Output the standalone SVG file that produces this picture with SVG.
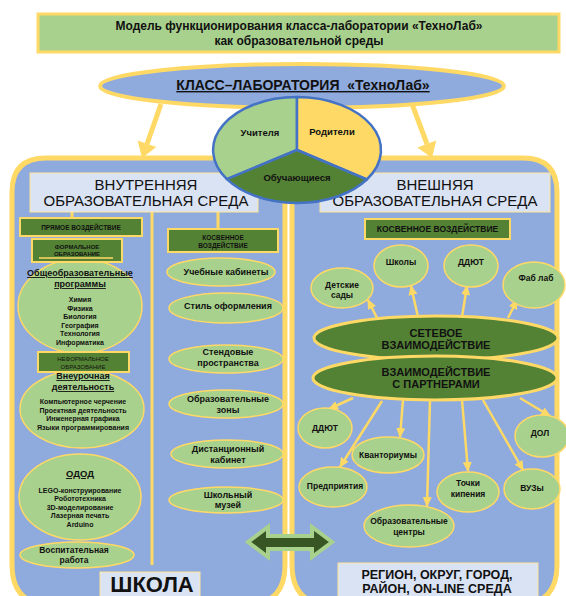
<svg xmlns="http://www.w3.org/2000/svg" width="566" height="596" viewBox="0 0 566 596">
<defs>
<style>
.t{font-family:"Liberation Sans",Arial,sans-serif;fill:#111;text-anchor:middle;font-weight:bold}
.n{font-weight:normal}
.u{text-decoration:underline}
.lg{fill:#a9d18e;stroke:#ffd966;stroke-width:1.5}
.dg{fill:#548235;stroke:#ffd966;stroke-width:2}
.hd{fill:#dae3f3;stroke:#ffe699;stroke-width:1}
.pn{fill:#8faadc;stroke:#ffd966;stroke-width:5}
.ar{stroke:#ffd966;stroke-width:2.5;fill:none;marker-end:url(#ah)}
.yl{stroke:#ffd966;stroke-width:3;fill:none}
</style>
<marker id="ah" markerUnits="userSpaceOnUse" markerWidth="10" markerHeight="10" viewBox="0 0 10 10" refX="9" refY="5" orient="auto">
<path d="M0,0.5 L10,5 L0,9.5 Z" fill="#ffd966"/>
</marker>
</defs>
<rect width="566" height="596" fill="#ffffff"/>

<g id="title">
<rect x="38" y="14" width="521" height="38" fill="#a9d18e" stroke="#ffd966" stroke-width="3"/>
<text class="t" x="299" y="30" font-size="12">Модель функционирования класса-лаборатории «ТехноЛаб»</text>
<text class="t" x="299" y="45" font-size="12">как образовательной среды</text>
</g>

<g id="panel-left">
<path class="pn" d="M12,192 Q12,158 46,158 L251,158 Q285,158 285,192 L285,565 Q285,605 245,605 L52,605 Q12,605 12,565 Z"/>
<line class="yl" x1="152" y1="212" x2="152" y2="565"/>
<line class="yl" x1="72" y1="212" x2="72" y2="218" stroke-width="2"/>
<line class="yl" x1="218" y1="212" x2="218" y2="229" stroke-width="2"/>
</g>
<g id="panel-right">
<path class="pn" d="M292,192 Q292,158 326,158 L523,158 Q557,158 557,192 L557,565 Q557,605 517,605 L332,605 Q292,605 292,565 Z"/>
</g>

<g id="header-left">
<rect class="hd" x="30" y="173" width="228" height="39"/>
<text class="t n" x="146" y="190" font-size="15">ВНУТРЕННЯЯ</text>
<text class="t n" x="146" y="206" font-size="15">ОБРАЗОВАТЕЛЬНАЯ СРЕДА</text>
</g>
<g id="header-right">
<rect class="hd" x="320" y="173" width="230" height="39"/>
<text class="t n" x="435" y="190" font-size="15">ВНЕШНЯЯ</text>
<text class="t n" x="435" y="206" font-size="15">ОБРАЗОВАТЕЛЬНАЯ СРЕДА</text>
</g>

<g id="top-arrows">
<line x1="161" y1="104" x2="147" y2="144" stroke="#ffd966" stroke-width="5"/>
<polygon points="156.4,147.1 137.6,140.5 142,158" fill="#ffd966"/>
<line x1="412" y1="104" x2="427" y2="144" stroke="#ffd966" stroke-width="5"/>
<polygon points="436.2,140.4 417.4,147.4 432,158" fill="#ffd966"/>
</g>

<g id="class-lab">
<ellipse cx="302" cy="86" rx="202" ry="22" fill="#8faadc" stroke="#ffd966" stroke-width="4"/>
<text class="t u" x="303" y="90" font-size="14" xml:space="preserve">КЛАСС–ЛАБОРАТОРИЯ  «ТехноЛаб»</text>
</g>

<g id="pie">
<path d="M297,150 L297,97 A84,53 0 0,0 226.9,179.1 Z" fill="#a9d18e" stroke="#4472c4" stroke-width="2.5" stroke-linejoin="round"/>
<path d="M297,150 L297,97 A84,53 0 0,1 366.8,179.5 Z" fill="#ffd966" stroke="#4472c4" stroke-width="2.5" stroke-linejoin="round"/>
<path d="M297,150 L366.8,179.5 A84,53 0 0,1 226.9,179.1 Z" fill="#548235" stroke="#4472c4" stroke-width="2.5" stroke-linejoin="round"/>
<text class="t" x="260" y="136" font-size="9.5">Учителя</text>
<text class="t" x="332" y="135" font-size="9.5">Родители</text>
<text class="t" x="297" y="181" font-size="9.5">Обучающиеся</text>
</g>

<g id="direct">
<rect class="dg" x="20" y="218" width="122" height="18"/>
<text class="t" x="81" y="229.5" font-size="6.5">ПРЯМОЕ ВОЗДЕЙСТВИЕ</text>
</g>

<g id="general-programs">
<ellipse class="lg" cx="80" cy="306" rx="62" ry="47"/>
<text class="t u" x="80" y="276" font-size="9">Общеобразовательные</text>
<text class="t u" x="80" y="287" font-size="9">программы</text>
<text class="t" x="80" y="302" font-size="7">Химия</text>
<text class="t" x="80" y="310.5" font-size="7">Физика</text>
<text class="t" x="80" y="319" font-size="7">Биология</text>
<text class="t" x="80" y="327.5" font-size="7">География</text>
<text class="t" x="80" y="336" font-size="7">Технология</text>
<text class="t" x="80" y="344.5" font-size="7">Информатика</text>
</g>

<g id="formal">
<rect class="dg" x="32" y="239" width="90" height="23" stroke-width="2.5"/>
<text class="t" x="77" y="248.5" font-size="6">ФОРМАЛЬНОЕ</text>
<text class="t" x="77" y="256" font-size="6">ОБРАЗОВАНИЕ</text>
<line x1="39" y1="258" x2="113" y2="258" stroke="#ffd966" stroke-width="1.5"/>
</g>

<g id="extracurricular">
<ellipse class="lg" cx="82" cy="409" rx="62" ry="39"/>
<text class="t u" x="83" y="379" font-size="9">Внеурочная</text>
<text class="t u" x="83" y="390" font-size="9">деятельность</text>
<text class="t" x="83" y="404" font-size="7">Компьютерное черчение</text>
<text class="t" x="83" y="412.5" font-size="7">Проектная деятельность</text>
<text class="t" x="83" y="421" font-size="7">Инженерная графика</text>
<text class="t" x="83" y="429.5" font-size="7">Языки программирования</text>
</g>

<g id="informal">
<rect class="dg" x="38" y="352" width="91" height="20" stroke-width="2.5"/>
<text class="t n" x="83" y="360.5" font-size="6">НЕФОРМАЛЬНОЕ</text>
<text class="t n" x="83" y="368.5" font-size="6">ОБРАЗОВАНИЕ</text>
</g>

<g id="odod">
<ellipse class="lg" cx="80" cy="497" rx="61" ry="43"/>
<text class="t u" x="80" y="477" font-size="9.5">ОДОД</text>
<text class="t" x="80" y="492.5" font-size="7">LEGO-конструирование</text>
<text class="t" x="80" y="501" font-size="7">Робототехника</text>
<text class="t" x="80" y="509.5" font-size="7">3D-моделирование</text>
<text class="t" x="80" y="518" font-size="7">Лазерная печать</text>
<text class="t" x="80" y="526.5" font-size="7">Arduino</text>
</g>

<g id="upbringing">
<ellipse class="lg" cx="77" cy="555" rx="57" ry="13"/>
<text class="t" x="74" y="553" font-size="8.5">Воспитательная</text>
<text class="t" x="74" y="563" font-size="8.5">работа</text>
</g>

<g id="school">
<rect class="hd" x="100" y="572" width="100" height="30"/>
<text class="t" x="152" y="592" font-size="22">ШКОЛА</text>
</g>

<g id="indirect-left">
<rect class="dg" x="168" y="229" width="110" height="23"/>
<text class="t" x="223" y="239.5" font-size="6.5">КОСВЕННОЕ</text>
<text class="t" x="223" y="247.5" font-size="6.5">ВОЗДЕЙСТВИЕ</text>
</g>
<g id="classrooms">
<ellipse class="lg" cx="221" cy="272" rx="54" ry="14"/>
<text class="t" x="226" y="275" font-size="9">Учебные кабинеты</text>
</g>
<g id="style">
<ellipse class="lg" cx="226" cy="308" rx="57" ry="15"/>
<text class="t" x="228" y="308.5" font-size="9">Стиль оформления</text>
</g>
<g id="stands">
<ellipse class="lg" cx="226" cy="359" rx="57" ry="14"/>
<text class="t" x="228" y="355" font-size="9">Стендовые</text>
<text class="t" x="228" y="366" font-size="9">пространства</text>
</g>
<g id="zones">
<ellipse class="lg" cx="226" cy="404" rx="57" ry="14"/>
<text class="t" x="228" y="402" font-size="9">Образовательные</text>
<text class="t" x="228" y="413" font-size="9">зоны</text>
</g>
<g id="distance">
<ellipse class="lg" cx="227" cy="454" rx="56" ry="14"/>
<text class="t" x="228" y="452" font-size="9">Дистанционный</text>
<text class="t" x="228" y="463" font-size="9">кабинет</text>
</g>
<g id="museum">
<ellipse class="lg" cx="226" cy="500" rx="57" ry="13"/>
<text class="t" x="228" y="498" font-size="9">Школьный</text>
<text class="t" x="228" y="508" font-size="9">музей</text>
</g>

<g id="connectors">
<line class="ar" x1="377" y1="318" x2="368" y2="300"/>
<line class="ar" x1="418" y1="317" x2="411" y2="286"/>
<line class="ar" x1="462" y1="317" x2="467" y2="286"/>
<line class="ar" x1="508" y1="318" x2="517" y2="300"/>
<line class="ar" x1="353" y1="398" x2="329" y2="409"/>
<line class="ar" x1="382" y1="401" x2="340" y2="467"/>
<line class="ar" x1="403" y1="400" x2="400" y2="437"/>
<line class="ar" x1="430" y1="400" x2="427" y2="506"/>
<line class="ar" x1="462" y1="400" x2="468" y2="471"/>
<line class="ar" x1="483" y1="400" x2="523" y2="470"/>
<line class="ar" x1="520" y1="398" x2="550" y2="416"/>
</g>

<g id="indirect-right">
<rect class="dg" x="365" y="219" width="145" height="20" stroke-width="2.5"/>
<text class="t" x="437.5" y="232" font-size="8.5">КОСВЕННОЕ ВОЗДЕЙСТВИЕ</text>
</g>
<g id="kindergartens">
<ellipse class="lg" cx="342" cy="288" rx="31" ry="20"/>
<text class="t" x="342" y="288" font-size="8.5">Детские</text>
<text class="t" x="342" y="298" font-size="8.5">сады</text>
</g>
<g id="schools">
<ellipse class="lg" cx="401" cy="266" rx="27" ry="21"/>
<text class="t" x="401" y="265" font-size="8.5">Школы</text>
</g>
<g id="ddyut-top">
<ellipse class="lg" cx="471" cy="266" rx="27" ry="21"/>
<text class="t" x="471" y="265" font-size="8.5">ДДЮТ</text>
</g>
<g id="fablab">
<ellipse class="lg" cx="534" cy="285" rx="31" ry="23"/>
<text class="t" x="536" y="281" font-size="8.5">Фаб лаб</text>
</g>

<g id="network">
<ellipse cx="436" cy="338" rx="122" ry="22" fill="#548235" stroke="#ffd966" stroke-width="3"/>
<text class="t" x="436" y="337" font-size="11">СЕТЕВОЕ</text>
<text class="t" x="436" y="349" font-size="11">ВЗАИМОДЕЙСТВИЕ</text>
</g>
<g id="partners">
<ellipse cx="435" cy="378" rx="122" ry="22" fill="#548235" stroke="#ffd966" stroke-width="3"/>
<text class="t" x="436" y="376" font-size="11">ВЗАИМОДЕЙСТВИЕ</text>
<text class="t" x="436" y="388" font-size="11">С ПАРТНЕРАМИ</text>
</g>

<g id="ddyut-bottom">
<ellipse class="lg" cx="325" cy="428" rx="27" ry="20"/>
<text class="t" x="325" y="431" font-size="8.5">ДДЮТ</text>
</g>
<g id="dol">
<ellipse class="lg" cx="542" cy="436" rx="27" ry="21"/>
<text class="t" x="540" y="436" font-size="8.5">ДОЛ</text>
</g>
<g id="quantorium">
<ellipse class="lg" cx="388" cy="455" rx="36" ry="18"/>
<text class="t" x="388" y="458" font-size="8.5">Кванториумы</text>
</g>
<g id="enterprises">
<ellipse class="lg" cx="333" cy="487" rx="34" ry="20"/>
<text class="t" x="335" y="489" font-size="8.5">Предприятия</text>
</g>
<g id="growth-points">
<ellipse class="lg" cx="468" cy="492" rx="31" ry="20"/>
<text class="t" x="468" y="486" font-size="8.5">Точки</text>
<text class="t" x="468" y="497" font-size="8.5">кипения</text>
</g>
<g id="universities">
<ellipse class="lg" cx="532" cy="489" rx="28" ry="20"/>
<text class="t" x="532" y="491" font-size="8.5">ВУЗы</text>
</g>
<g id="edu-centers">
<ellipse class="lg" cx="409" cy="526" rx="45" ry="21"/>
<text class="t" x="409" y="524" font-size="8.5">Образовательные</text>
<text class="t" x="409" y="535" font-size="8.5">центры</text>
</g>

<g id="region">
<rect class="hd" x="338" y="563" width="200" height="40"/>
<text class="t" x="437" y="579" font-size="12.5">РЕГИОН, ОКРУГ, ГОРОД,</text>
<text class="t" x="437" y="593" font-size="12.5">РАЙОН, ON-LINE СРЕДА</text>
</g>

<g id="double-arrow">
<polygon points="248,542 268,527 268,536 312,536 312,527 332,542 312,557 312,549 268,549 268,557" fill="#375623" stroke="#a9d18e" stroke-width="4" stroke-linejoin="miter"/>
</g>
</svg>
